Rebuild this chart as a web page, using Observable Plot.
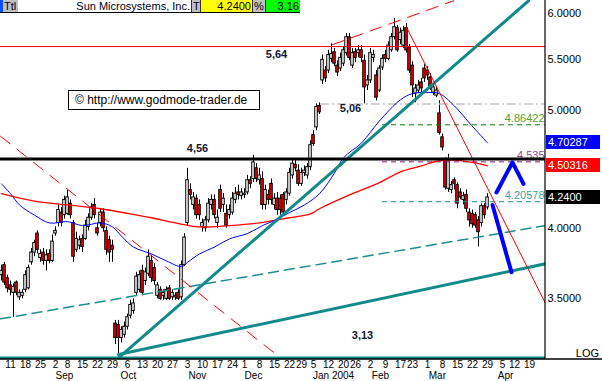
<!DOCTYPE html>
<html><head><meta charset="utf-8">
<script src="https://cdn.jsdelivr.net/npm/d3@7"></script>
<script src="https://cdn.jsdelivr.net/npm/@observablehq/plot@0.6"></script>
<style>
body{margin:0;background:#fff;font-family:"Liberation Sans",Arial,sans-serif;}
#wrap{position:relative;width:602px;height:381px;overflow:hidden;background:#fff}
#hdr{position:absolute;left:0;top:0;width:300px;height:12px;border-bottom:1px solid #000;font-size:11px;line-height:12px;color:#000018}
#hdr span{position:absolute;top:0;height:12px;white-space:nowrap;box-sizing:border-box;padding:0 1px;overflow:hidden}
#copy{position:absolute;left:68px;top:90px;width:192px;height:20px;box-sizing:border-box;border:1px solid #000;background:#fff;font-size:12px;line-height:18px;padding-left:6px;white-space:nowrap;color:#000}
.vbox{position:absolute;height:14px;box-sizing:border-box;color:#fff;font-size:11px;line-height:14px;padding-left:2px;white-space:nowrap}
</style></head>
<body><div id="wrap"><div id="chart"></div><div id="hdr"></div><div id="copy"></div></div>
<script>
// ---- data (trading-day index 0 = Mon 11 Aug 2003) ----
const firstIdx = -3;
const opens = [3.66,3.73,3.64,3.59,3.54,3.61,3.51,3.52,3.56,3.57,
 3.75,3.82,3.96,3.78,3.82,3.76,3.81,3.76,3.96,4.04,
 4.12,4.10,4.11,4.19,4.04,3.84,3.87,3.92,3.92,4.01,
 4.08,4.18,4.00,4.04,4.12,3.98,3.91,3.87,3.34,3.33,
 3.25,3.27,3.32,3.39,3.42,3.54,3.56,3.69,3.62,3.67,
 3.76,3.71,3.52,3.56,3.52,3.50,3.57,3.51,3.51,3.54,
 3.51,3.73,4.04,4.30,4.18,4.23,4.18,4.01,4.00,4.06,
 4.18,4.22,4.04,4.30,4.18,4.11,4.10,4.12,4.22,4.28,
 4.25,4.26,4.28,4.38,4.39,4.48,4.38,4.39,4.18,4.26,
 4.35,4.18,4.23,4.23,4.26,4.22,4.27,4.42,4.51,4.46,
 4.35,4.44,4.42,4.49,4.77,4.84,5.04,5.29,5.39,5.39,
 5.51,5.58,5.44,5.41,5.46,5.57,5.74,5.44,5.58,5.57,
 5.60,5.49,5.24,5.29,5.52,5.34,5.19,5.42,5.55,5.51,
 5.60,5.74,5.84,5.71,5.65,5.84,5.63,5.44,5.16,5.19,
 5.27,5.41,5.39,5.32,5.17,5.14,4.97,4.75,4.55,4.31,
 4.30,4.38,4.34,4.28,4.22,4.26,4.12,4.11,4.10,4.06,
 4.04,4.17,4.16];
const highs = [3.73,3.75,3.66,3.62,3.60,3.62,3.56,3.56,3.69,3.73,
 3.85,3.91,3.98,3.84,3.85,3.84,3.84,3.95,4.01,4.18,
 4.16,4.25,4.30,4.22,4.06,3.97,3.94,3.95,4.06,4.11,
 4.19,4.23,4.04,4.15,4.15,4.01,3.94,3.91,3.36,3.36,
 3.32,3.35,3.40,3.49,3.50,3.68,3.69,3.73,3.71,3.84,
 3.80,3.74,3.61,3.58,3.56,3.58,3.59,3.56,3.54,3.56,
 3.76,3.96,4.48,4.35,4.28,4.26,4.22,4.07,4.09,4.23,
 4.26,4.26,4.14,4.34,4.27,4.18,4.18,4.28,4.32,4.34,
 4.31,4.31,4.42,4.41,4.59,4.52,4.48,4.45,4.34,4.30,
 4.39,4.27,4.28,4.26,4.28,4.31,4.48,4.56,4.55,4.51,
 4.48,4.50,4.52,4.72,4.81,5.06,5.07,5.55,5.43,5.60,
 5.67,5.62,5.49,5.57,5.64,5.78,5.78,5.62,5.62,5.65,
 5.65,5.55,5.34,5.62,5.60,5.39,5.44,5.55,5.60,5.69,
 5.78,5.95,5.87,5.84,5.86,5.89,5.66,5.48,5.25,5.29,
 5.31,5.45,5.43,5.36,5.25,5.23,5.09,4.78,4.57,4.60,
 4.37,4.40,4.36,4.31,4.28,4.30,4.15,4.14,4.12,4.09,
 4.19,4.19,4.27];
const lows = [3.62,3.59,3.54,3.52,3.38,3.52,3.49,3.50,3.54,3.56,
 3.73,3.79,3.81,3.75,3.73,3.69,3.74,3.75,3.94,4.01,
 4.01,4.07,4.10,4.07,3.75,3.82,3.84,3.82,3.91,3.98,
 4.06,4.07,3.94,4.01,3.97,3.80,3.75,3.75,3.21,3.14,
 3.22,3.25,3.30,3.37,3.40,3.52,3.54,3.52,3.59,3.65,
 3.61,3.59,3.50,3.49,3.49,3.49,3.49,3.49,3.49,3.49,
 3.49,3.72,4.02,4.22,4.14,4.07,4.06,3.97,3.97,4.04,
 4.14,4.07,4.00,4.12,4.12,4.00,4.07,4.10,4.19,4.22,
 4.22,4.23,4.26,4.31,4.36,4.36,4.34,4.14,4.14,4.18,
 4.18,4.14,4.10,4.10,4.10,4.18,4.25,4.39,4.45,4.33,
 4.33,4.41,4.39,4.46,4.67,4.81,4.96,5.25,5.27,5.36,
 5.47,5.43,5.33,5.38,5.43,5.54,5.49,5.41,5.47,5.52,
 5.47,5.06,5.19,5.26,5.47,5.09,5.17,5.39,5.47,5.49,
 5.58,5.71,5.58,5.66,5.62,5.57,5.36,5.12,5.07,5.16,
 5.17,5.27,5.29,5.19,5.14,5.12,4.77,4.63,4.30,4.28,
 4.27,4.30,4.15,4.22,4.18,4.12,4.01,4.00,4.00,3.86,
 4.01,4.07,4.14];
const closes = [3.69,3.61,3.57,3.56,3.58,3.54,3.54,3.54,3.66,3.71,
 3.82,3.89,3.84,3.81,3.76,3.80,3.76,3.90,3.98,4.14,
 4.04,4.22,4.24,4.10,3.79,3.92,3.91,3.86,4.02,4.08,
 4.16,4.10,3.96,4.12,4.00,3.84,3.82,3.84,3.25,3.25,
 3.30,3.32,3.38,3.46,3.47,3.65,3.66,3.54,3.68,3.79,
 3.64,3.62,3.59,3.50,3.54,3.56,3.50,3.54,3.52,3.50,
 3.73,3.93,4.38,4.26,4.24,4.10,4.10,4.04,4.06,4.19,
 4.22,4.10,4.08,4.15,4.23,4.02,4.14,4.23,4.27,4.26,
 4.28,4.27,4.38,4.35,4.53,4.39,4.42,4.18,4.30,4.22,
 4.22,4.23,4.14,4.14,4.12,4.28,4.44,4.52,4.48,4.35,
 4.44,4.46,4.49,4.68,4.69,5.03,4.98,5.50,5.31,5.55,
 5.56,5.46,5.37,5.52,5.60,5.74,5.52,5.57,5.52,5.60,
 5.52,5.22,5.29,5.57,5.55,5.12,5.41,5.51,5.51,5.65,
 5.74,5.85,5.60,5.79,5.81,5.60,5.39,5.24,5.21,5.24,
 5.21,5.31,5.34,5.22,5.22,5.19,4.79,4.66,4.32,4.56,
 4.34,4.35,4.19,4.24,4.25,4.15,4.06,4.03,4.02,3.97,
 4.17,4.10,4.24];

// moving averages
const redMAIdx = [-3,8,19,30,40,47,55,63,73,83,93,100,103,114,123,130,137,142,148,154,159];
const redMAVal = [4.27,4.21,4.18,4.15,4.11,4.08,4.04,4.01,4.02,4.04,4.08,4.11,4.15,4.27,4.36,4.45,4.50,4.54,4.55,4.53,4.50];
const blueMAIdx = [-3,0,3,8,13,19,24,30,34,37,41,47,52,57,59,63,68,73,79,84,89,93,98,103,108,111,117,123,130,134,140,143,148,153,159];
const blueMAVal = [4.35,4.27,4.18,4.10,4.04,4.05,4.02,4.04,4.01,3.94,3.86,3.81,3.76,3.72,3.75,3.81,3.86,3.92,3.96,4.02,4.07,4.12,4.18,4.27,4.44,4.57,4.70,4.90,5.10,5.16,5.17,5.16,5.04,4.88,4.70];

// x axis ticks
const tickIdx = [0,5,10,15,19,24,29,34,39,44,49,54,59,64,69,74,78,83,88,93,97,101,106,111,115,120,125,130,134,139,144,149,154,159,164,168,173];
const tickLabels = ["11","18","25","2","8","15","22","29","6","13","20","27","3","10","17","24","1","8","15","22","29","5","12","20","26","2","9","17","23","1","8","15","22","29","5","12","19"];
const monthIdx = [18,39.3,62.3,81,107.7,123.3,142.3,165];
const monthLabels = ["Sep","Oct","Nov","Dec","Jan 2004","Feb","Mar","Apr"];
const yTicks = [3.5,4,5,5.5,6];
const xDomain = [-10/3, 535/3];
const yDomain = [3.1206, 6.153];

// trend lines [index, price]
const tealUp = [[36,3.13],[172.7,6.15]];
const tealLow = [[36,3.15],[178.33,3.74]];
const tealBase = [[-3.33,3.13],[178.33,3.13]];
const tealDash = [[-3.33,3.37],[178.33,4.02]];
const redDown = [[132,5.85],[178.33,3.47]];
const redDashUp = [[107.33,5.66],[147.7,6.15]];
const redDashLeft = [[-3.33,4.76],[90,3.13]];
const arrowUp = [[162,4.28],[167.33,4.53],[171,4.35]];
const arrowDown = [[160.67,4.18],[167,3.68]];

// horizontal levels
const levelVals = [4.86422, 4.535, 4.20578];
const levelText = ["4.86422","4.535","4.20578"];
const levelLine = ["#0a7a0a","#8a1a8a","#1a8a8a"];
const levelTextColor = ["#5c9a2c","#8a4a8a","#3aa6a6"];
const levelStart = 124;
const supportVal = 5.06, supportStart = 103.33;
const resistVal = 5.64, keyVal = 4.56;

// in-chart labels
const noteText = ["5,64","4,56","5,06","3,13"];
const noteIdx = [88.67,62.33,113.33,117.33];
const noteVal = [5.556,4.651,5.017,3.267];

// right-side value boxes
const boxVals = [4.70287, 4.50316, 4.24];
const boxText = ["4.70287","4.50316","4.2400"];
const boxColor = ["#0000ff","#ff0000","#000000"];

// ---- build ----
const candles = opens.map((o,k)=>({i:firstIdx+k,o,h:highs[k],l:lows[k],c:closes[k]}));
const redMA = redMAIdx.map((i,k)=>({i,v:redMAVal[k]}));
const blueMA = blueMAIdx.map((i,k)=>({i,v:blueMAVal[k]}));
const tickMap = new Map(tickIdx.map((d,k)=>[d,tickLabels[k]]));
const monthMap = new Map(monthIdx.map((d,k)=>[d,monthLabels[k]]));
const levels = levelVals.map((v,k)=>({v,t:levelText[k],lc:levelLine[k],tc:levelTextColor[k]}));
const notes = noteText.map((t,k)=>({t,i:noteIdx[k],v:noteVal[k]}));
const P = {x:d=>d[0], y:d=>d[1]};

const plot = Plot.plot({
  width:602, height:381, marginLeft:0, marginRight:57, marginTop:0, marginBottom:22,
  x:{domain:xDomain},
  y:{type:"log", domain:yDomain},
  style:{fontFamily:'"Liberation Sans", Arial, sans-serif', fontSize:"11px", background:"#fff", overflow:"visible", color:"#000"},
  marks:[
    Plot.ruleX(candles,{x:"i", y1:"l", y2:"h", stroke:"#000", strokeWidth:1}),
    Plot.rect(candles,{x1:d=>d.i-0.42, x2:d=>d.i+0.42, y1:"o", y2:"c", fill:d=>d.c<d.o?"#ff0000":"#ffffff", stroke:"#000", strokeWidth:1}),
    Plot.ruleY([resistVal],{stroke:"#ff0000", strokeWidth:1}),
    Plot.ruleY([supportVal],{x1:supportStart, x2:xDomain[1], stroke:"#c4c4c4", strokeWidth:1.5, strokeDasharray:"9,3,2,3"}),
    Plot.ruleY(levels,{y:"v", x1:levelStart, x2:xDomain[1], stroke:"lc", strokeWidth:1, strokeDasharray:"5,4"}),
    Plot.text(levels,{y:"v", x:xDomain[1], text:"t", textAnchor:"end", dx:-1, dy:-6, fill:"tc", fontSize:11}),
    Plot.line(tealDash,{...P, stroke:"#1a8f8f", strokeWidth:1.5, strokeDasharray:"10,6", clip:true}),
    Plot.line(redDashLeft,{...P, stroke:"#ff0000", strokeWidth:1, strokeDasharray:"12,9", clip:true}),
    Plot.line(redDashUp,{...P, stroke:"#ff0000", strokeWidth:1, strokeDasharray:"12,8", clip:true}),
    Plot.line(redMA,{x:"i", y:"v", stroke:"#ff0000", strokeWidth:1.3, curve:"catmull-rom"}),
    Plot.line(blueMA,{x:"i", y:"v", stroke:"#0000ff", strokeWidth:1, curve:"catmull-rom"}),
    Plot.line(tealBase,{...P, stroke:"#138a8a", strokeWidth:3, clip:true}),
    Plot.line(tealUp,{...P, stroke:"#138a8a", strokeWidth:3, clip:true}),
    Plot.line(tealLow,{...P, stroke:"#138a8a", strokeWidth:3, clip:true}),
    Plot.line(redDown,{...P, stroke:"#ff0000", strokeWidth:1, clip:true}),
    Plot.ruleY([keyVal],{stroke:"#000", strokeWidth:3}),
    Plot.line(arrowUp,{...P, stroke:"#0000ff", strokeWidth:4}),
    Plot.line(arrowDown,{...P, stroke:"#0000ff", strokeWidth:4}),
    Plot.text(notes,{x:"i", y:"v", text:"t", fontWeight:"bold", fontSize:11, fill:"#141432"}),
    Plot.axisY({anchor:"right", ticks:yTicks, tickFormat:d3.format(".4f"), tickSize:0, tickPadding:2, fontSize:11, label:null}),
    Plot.axisX({ticks:tickIdx, tickFormat:d=>tickMap.get(d), tickSize:0, tickPadding:1, fontSize:10, label:null}),
    Plot.axisX({ticks:monthIdx, tickFormat:d=>monthMap.get(d), tickSize:0, tickPadding:12.5, fontSize:10, label:null})
  ]
});
document.getElementById("chart").appendChild(plot);

// chrome: axis lines, value boxes, LOG
const X = v=>plot.scale("x").apply(v), Y = v=>plot.scale("y").apply(v);
const svg = d3.select(plot);
const xEnd = X(xDomain[1]), yBot = Y(yDomain[0]);
svg.append("line").attr("x1",xEnd).attr("x2",xEnd).attr("y1",0).attr("y2",yBot).attr("stroke","#000").attr("stroke-width",1.2);
svg.append("line").attr("x1",0).attr("x2",602).attr("y1",yBot).attr("y2",yBot).attr("stroke","#000").attr("stroke-width",1.5);
svg.append("text").attr("x",599).attr("y",yBot-2).attr("text-anchor","end").attr("font-size",11).attr("fill","#000").text("LOG");
const wrap = document.getElementById("wrap");
boxVals.forEach((v,k)=>{
  const b = document.createElement("div");
  b.className = "vbox";
  b.style.left = (xEnd+1)+"px";
  b.style.top = (Y(v)-7)+"px";
  b.style.width = "54px";
  b.style.background = boxColor[k];
  b.textContent = boxText[k];
  wrap.appendChild(b);
});

// header
const hdrItems = [
  {l:0,w:3,bg:"#0a50f0",t:"",a:"left"},
  {l:3,w:15,bg:"#c0c0c0",t:"Ttl",a:"left"},
  {l:18,w:173,bg:"#ffffff",t:"Sun Microsystems, Inc.",a:"right"},
  {l:191,w:9,bg:"#c0c0c0",t:"T",a:"left",b:1},
  {l:200,w:52,bg:"#ffff00",t:"4.2400",a:"right",b:1},
  {l:252,w:13,bg:"#c0c0c0",t:"%",a:"left",b:1},
  {l:265,w:35,bg:"#00ff00",t:"3.16",a:"right",b:1}
];
const hdr = document.getElementById("hdr");
hdrItems.forEach(h=>{
  const s = document.createElement("span");
  s.style.left = h.l+"px"; s.style.width = h.w+"px"; s.style.background = h.bg; s.style.textAlign = h.a;
  if (h.b) s.style.borderLeft = "1px solid #333";
  s.textContent = h.t; hdr.appendChild(s);
});
document.getElementById("copy").textContent = "\u00A9 http://www.godmode-trader.de";
</script></body></html>
